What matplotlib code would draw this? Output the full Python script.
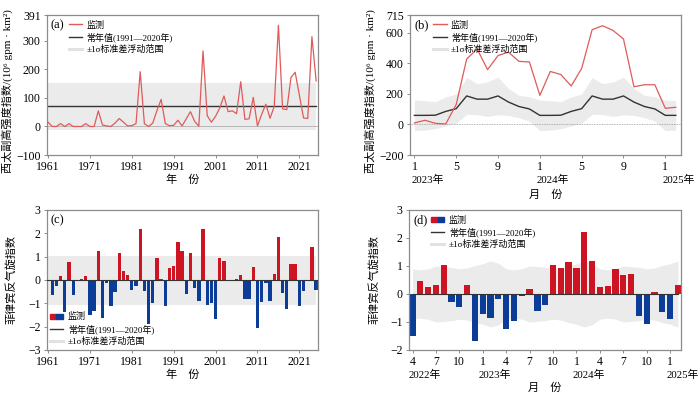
import matplotlib
matplotlib.use('Agg')
import matplotlib.pyplot as plt
from matplotlib.patches import Patch
from matplotlib.lines import Line2D
from matplotlib.legend_handler import HandlerTuple
import matplotlib.transforms as mtransforms
import numpy as np

plt.rcParams['font.family'] = ['Liberation Serif', 'Noto Sans CJK SC']
plt.rcParams['axes.unicode_minus'] = True

# ---------------- data ----------------
years_a = list(range(1961, 2026))
wpsh_annual = [15, 0, 0, 10, 0, 10, 0, 0, 0, 10, 0, 0, 55, 5, 2, 0, 12, 28, 15, 2,
               3, 10, 192, 10, 0, 12, 56, 95, 10, 3, 4, 22, 2, 27, 52, 18, 1, 265, 38, 15,
               36, 65, 107, 52, 55, 45, 157, 25, 27, 102, 2, 43, 78, 29, 70, 355, 62, 59, 172, 190,
               110, 30, 28, 315, 160]
wpsh_clim_mean = 71
wpsh_clim_sd = 83

month_labels_b = ['1', '5', '9', '1', '5', '9', '1']
year_labels_b = ['2023年', '2024年', '2025年']
wpsh_monthly = [9, 27, 7, 3, 130, 427, 493, 358, 450, 472, 412, 408,
                190, 346, 326, 251, 366, 619, 645, 614, 558, 246, 259, 259,
                105, 112]
wpsh_month_mean = [59, 59, 60, 85, 103, 186, 165, 165, 186, 146, 117, 101]
wpsh_month_sd = [100, 96, 88, 95, 95, 120, 101, 113, 123, 88, 73, 80]

years_c = list(range(1962, 2026))
pac_annual = [-0.64, -0.26, 0.17, -1.37, 0.79, -0.66, -0.05, 0.06, 0.16, -1.5,
              -1.33, 1.23, -1.63, -0.13, -1.1, -0.53, 1.14, 0.39, 0.21, -0.44,
              -0.24, 2.17, -0.49, -1.89, -0.97, 0.94, 0.04, -1.1, 0.5, 0.62,
              1.62, 1.24, -0.61, 1.16, -0.35, -0.92, 2.2, -1.05, -0.98, -1.67,
              0.96, 0.83, -0.04, -0.04, 0.05, 0.22, -0.82, -0.82, 0.57, -2.06,
              -0.93, -0.14, -0.92, 0.26, 1.84, -0.57, -1.26, 0.67, 0.68, -1.12,
              -0.46, 0.0, 1.42, -0.42]
pac_clim_mean = 0.0
pac_clim_sd = 1.05

month_labels_d = ['4', '7', '10', '1', '4', '7', '10', '1', '4', '7', '10', '1']
year_labels_d = ['2022年', '2023年', '2024年', '2025年']
pac_monthly = [-1.51, 0.46, 0.24, 0.32, 1.02, -0.3, -0.46, 0.31, -1.67,
               -0.73, -0.87, -0.19, -1.25, -0.96, -0.07, 0.19, -0.6, -0.4, 1.04, 0.92, 1.14,
               0.92, 2.23, 1.18, 0.24, 0.3, 0.89, 0.68, 0.71, -0.79, -1.08, 0.07, -0.65,
               -0.88, 0.31]
# calendar months Jan..Dec
pac_month_mean = [0, 0, 0, 0, 0, 0, 0, 0, 0, 0, 0, 0]
pac_month_sd = [1.08, 1.18, 1.1, 0.9, 0.86, 0.9, 1.0, 0.98, 0.95, 0.9, 0.93, 1.02]

# ---------------- style ----------------
RED_LINE = '#e05a5a'
RED_BAR = '#cc1423'
BLUE_BAR = '#0b3c98'
BAND = '#ebebeb'
MEAN = '#333333'
SPINE = '#8c8c8c'
TICK_FS = 8.5
YEAR_FS = 7.8
LAB_FS = 8
LEG_FS = 6.5

fig = plt.figure(figsize=(7.0, 3.94), dpi=100)
W, H = 700.0, 394.0


def add_ax(l, r, t, b):
    return fig.add_axes([l / W, 1 - b / H, (r - l) / W, (b - t) / H])


axA = add_ax(47, 318, 15, 155)
axB = add_ax(410, 681, 15, 155)
axC = add_ax(47, 318, 210, 350)
axD = add_ax(409, 681, 210, 350)

for ax in (axA, axB, axC, axD):
    for s in ax.spines.values():
        s.set_color(SPINE)
        s.set_linewidth(0.9)
    ax.tick_params(direction='out', length=2.5, width=0.7, color=SPINE,
                   labelsize=TICK_FS, pad=2)

band_handle = Line2D([], [], color='#e2e2e2', lw=2.2)
mean_handle = Line2D([], [], color=MEAN, lw=1.0)
leg_kw = dict(frameon=False, fontsize=LEG_FS, handlelength=1.5, handletextpad=0.5,
              labelspacing=0.3, borderpad=0, borderaxespad=0)

# ---------- (a) ----------
ya = np.array(years_a)
axA.fill_between([ya[0], ya[-1]], wpsh_clim_mean - wpsh_clim_sd,
                 wpsh_clim_mean + wpsh_clim_sd, color=BAND, lw=0, zorder=0)
axA.axhline(0, color='#b0b0b0', lw=0.6, zorder=1)
axA.plot([ya[0], ya[-1]], [wpsh_clim_mean, wpsh_clim_mean], color=MEAN, lw=1.0, zorder=2)
axA.plot(ya, wpsh_annual, color=RED_LINE, lw=0.9, zorder=3)
axA.set_xlim(1960.75, 2025.45)
axA.set_ylim(-100, 391)
axA.set_yticks([-100, 0, 100, 200, 300, 391])
axA.set_xticks(list(range(1961, 2022, 10)))
axA.set_xlabel('年　份', fontsize=LAB_FS, labelpad=1)
axA.set_ylabel('西太副高强度指数/(10⁶ gpm · km²)', fontsize=LAB_FS)
axA.yaxis.set_label_coords(-0.125, 0.46)
axA.text(0.012, 0.925, '(a)', transform=axA.transAxes, fontsize=9, va='center')
axA.legend([Line2D([], [], color=RED_LINE, lw=1.0), mean_handle, band_handle],
           ['监测', '常年值(1991—2020年)', '±1σ标准差浮动范围'],
           loc='upper left', bbox_to_anchor=(0.08, 0.96), **leg_kw)

# ---------- (b) ----------
nb = len(wpsh_monthly)
xb = np.arange(nb)
mb = np.array([wpsh_month_mean[i % 12] for i in range(nb)])
sb = np.array([wpsh_month_sd[i % 12] for i in range(nb)])
axB.fill_between(xb, mb - sb, mb + sb, color=BAND, lw=0, zorder=0)
axB.axhline(0, color='#999999', lw=0.6, ls=(0, (1, 1)), zorder=1)
axB.plot(xb, mb, color=MEAN, lw=1.0, zorder=2)
axB.plot(xb, wpsh_monthly, color=RED_LINE, lw=0.9, zorder=3)
axB.set_xlim(-0.42, 25.5)
axB.set_ylim(-200, 715)
axB.set_yticks([-200, 0, 200, 400, 600, 715])
tb = [0, 4, 8, 12, 16, 20, 24]
axB.set_xticks(tb)
axB.set_xticklabels(month_labels_b)
axB.set_xlabel('月　份', fontsize=LAB_FS, labelpad=12)
axB.set_ylabel('西太副高强度指数/(10⁶ gpm · km²)', fontsize=LAB_FS)
axB.yaxis.set_label_coords(-0.125, 0.46)
trB = mtransforms.offset_copy(mtransforms.blended_transform_factory(axB.transData, axB.transAxes),
                              fig=fig, x=-3, y=0, units='dots')
for xpos, lab in zip([0, 12, 24], year_labels_b):
    axB.text(xpos, -0.175, lab, transform=trB, fontsize=YEAR_FS, ha='left', va='center')
axB.text(0.015, 0.925, '(b)', transform=axB.transAxes, fontsize=9, va='center')
axB.legend([Line2D([], [], color=RED_LINE, lw=1.0), mean_handle, band_handle],
           ['监测', '常年值(1991—2020年)', '±1σ标准差浮动范围'],
           loc='upper left', bbox_to_anchor=(0.085, 0.96), **leg_kw)

# ---------- (c) ----------
yc = np.array(years_c)
vc = np.array(pac_annual)
axC.fill_between([1961, 2025], pac_clim_mean - pac_clim_sd, pac_clim_mean + pac_clim_sd,
                 color=BAND, lw=0, zorder=0)
axC.bar(yc, vc, width=0.8, color=np.where(vc >= 0, RED_BAR, BLUE_BAR), lw=0, zorder=2)
axC.axhline(pac_clim_mean, color=MEAN, lw=0.8, zorder=3)
axC.set_xlim(1960.75, 2025.45)
axC.set_ylim(-3, 3)
axC.set_yticks([-3, -2, -1, 0, 1, 2, 3])
axC.set_xticks(list(range(1961, 2022, 10)))
axC.set_xlabel('年　份', fontsize=LAB_FS, labelpad=1)
axC.set_ylabel('菲律宾反气旋指数', fontsize=LAB_FS)
axC.yaxis.set_label_coords(-0.115, 0.5)
axC.text(0.012, 0.925, '(c)', transform=axC.transAxes, fontsize=9, va='center')
obs_handle = (Patch(color=RED_BAR), Patch(color=BLUE_BAR))
axC.legend([obs_handle, mean_handle, band_handle],
           ['监测', '常年值(1991—2020年)', '±1σ标准差浮动范围'],
           handler_map={tuple: HandlerTuple(ndivide=None, pad=0)},
           loc='lower left', bbox_to_anchor=(0.01, 0.03), handleheight=0.5, **leg_kw)

# ---------- (d) ----------
nd = len(pac_monthly)
xd = np.arange(nd)
vd = np.array(pac_monthly)
cal = [(3 + i) % 12 for i in range(nd)]  # starts April
md = np.array([pac_month_mean[c] for c in cal])
sd = np.array([pac_month_sd[c] for c in cal])
axD.fill_between(xd, md - sd, md + sd, color=BAND, lw=0, zorder=0)
axD.bar(xd, vd, width=0.8, color=np.where(vd >= 0, RED_BAR, BLUE_BAR), lw=0, zorder=2)
axD.plot(xd, md, color=MEAN, lw=0.8, zorder=3)
axD.set_xlim(-0.45, 34.4)
axD.set_ylim(-2, 3)
axD.set_yticks([-2, -1, 0, 1, 2, 3])
td = list(range(0, 34, 3))
axD.set_xticks(td)
axD.set_xticklabels(month_labels_d)
axD.set_xlabel('月　份', fontsize=LAB_FS, labelpad=10)
axD.set_ylabel('菲律宾反气旋指数', fontsize=LAB_FS)
axD.yaxis.set_label_coords(-0.11, 0.5)
trD = mtransforms.offset_copy(mtransforms.blended_transform_factory(axD.transData, axD.transAxes),
                              fig=fig, x=-4, y=0, units='dots')
for xpos, lab in zip([0, 9, 21, 33], year_labels_d):
    axD.text(xpos, -0.175, lab, transform=trD, fontsize=YEAR_FS, ha='left', va='center')
axD.text(0.015, 0.925, '(d)', transform=axD.transAxes, fontsize=9, va='center')
axD.legend([obs_handle, mean_handle, band_handle],
           ['监测', '常年值(1991—2020年)', '±1σ标准差浮动范围'],
           handler_map={tuple: HandlerTuple(ndivide=None, pad=0)},
           loc='upper left', bbox_to_anchor=(0.08, 0.96), handleheight=0.5, **leg_kw)

fig.savefig('out.png', dpi=100)
